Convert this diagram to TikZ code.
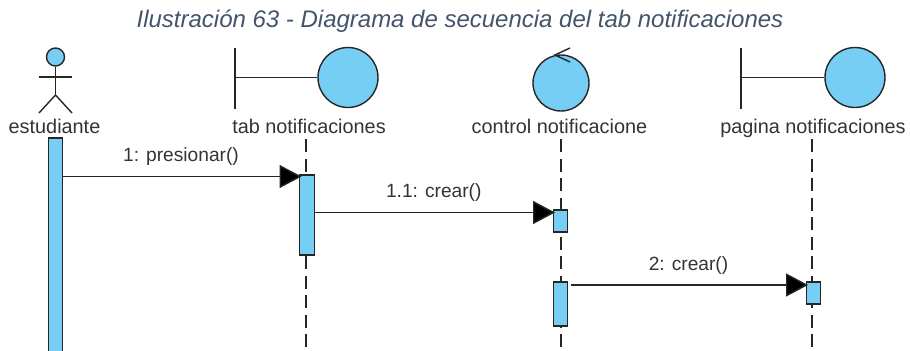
\documentclass[tikz,border=0pt]{standalone}
\usepackage{fontspec}
\setmainfont{Liberation Sans}
\usetikzlibrary{arrows.meta}
\definecolor{lifeblue}{HTML}{76CEF5}
\definecolor{titleblue}{HTML}{44546A}
\tikzset{
    figure/.style={draw=black!85, line width=0.8pt},
    ball/.style={figure, circle, fill=lifeblue, inner sep=0pt},
    actbar/.style={figure, rectangle, fill=lifeblue, inner sep=0pt, minimum width=0.29cm},
    lifeline/.style={draw=black!85, line width=0.8pt, dash pattern=on 0.26cm off 0.13cm},
    message/.style={draw=black!85, line width=0.8pt, shorten >=-0.05cm, -{Triangle[length=0.44cm, width=0.46cm, fill=black]}},
    partname/.style={font=\fontsize{11.3pt}{13pt}\selectfont, text=black!80, inner sep=0pt, anchor=base},
    msgtext/.style={font=\fontsize{10.9pt}{13pt}\selectfont, text=black!80, inner sep=0pt}
}
\begin{document}
\begin{tikzpicture}
    \useasboundingbox (0,0) rectangle (18.2,7);
    \node [font=\fontsize{13.65pt}{16pt}\selectfont\itshape, text=titleblue, inner sep=0pt] (title) at (9.2,6.58) {Ilustración 63 - Diagrama de secuencia del tab notificaciones};
    % actor
    \node [ball, minimum size=0.36cm] (head) at (1.11,5.86) {};
    \coordinate (hip) at (1.11,5.1);
    \coordinate (armL) at (0.78,5.46);
    \coordinate (armR) at (1.44,5.46);
    \coordinate (footL) at (0.78,4.74);
    \coordinate (footR) at (1.44,4.74);
    \draw [figure] (head.south) -- (hip);
    \draw [figure] (armL) -- (armR);
    \draw [figure] (footL) -- (hip) -- (footR);
    \node [partname] (estudiante) at (1.09,4.34) {estudiante};
    % boundary, tab
    \node [ball, minimum size=1.2cm] (tabball) at (6.96,5.45) {};
    \coordinate (tabtop) at (4.7,6.04);
    \coordinate (tabbot) at (4.7,4.82);
    \draw [figure] (tabtop) -- (tabbot);
    \draw [figure] (tabtop |- tabball) -- (tabball.west);
    \node [partname] (tabname) at (6.18,4.34) {tab notificaciones};
    % control
    \node [ball, minimum size=1.12cm] (ctrlball) at (11.22,5.34) {};
    \coordinate (ctrltip) at (11.1,5.9);
    \coordinate (ctrlup) at (11.4,6.04);
    \coordinate (ctrldown) at (11.4,5.76);
    \draw [figure] (ctrlup) -- (ctrltip) -- (ctrldown);
    \node [partname] (ctrlname) at (11.19,4.34) {control notificacione};
    % boundary, pagina
    \node [ball, minimum size=1.2cm] (pageball) at (17.1,5.45) {};
    \coordinate (pagetop) at (14.82,6.04);
    \coordinate (pagebot) at (14.82,4.82);
    \draw [figure] (pagetop) -- (pagebot);
    \draw [figure] (pagetop |- pageball) -- (pageball.west);
    \node [partname] (pagename) at (16.26,4.34) {pagina notificaciones};
    % lifelines
    \coordinate (tabline) at (6.12,4.22);
    \coordinate (ctrlline) at (11.22,4.22);
    \coordinate (pageline) at (16.24,4.22);
    \draw [lifeline] (tabline) -- (tabline |- 0,0);
    \draw [lifeline] (ctrlline) -- (ctrlline |- 0,0);
    \draw [lifeline] (pageline) -- (pageline |- 0,0);
    % activations
    \node [actbar, minimum width=0.27cm, minimum height=4.3cm] (estbar) at (1.11,2.09) {};
    \node [actbar, minimum height=1.6cm] (tabbar) at (6.14,2.7) {};
    \node [actbar, minimum height=0.44cm] (ctrlbarA) at (11.21,2.58) {};
    \node [actbar, minimum height=0.88cm] (ctrlbarB) at (11.21,0.92) {};
    \node [actbar, minimum height=0.44cm] (pagebar) at (16.27,1.14) {};
    % messages
    \coordinate (msgA) at (0,3.47);
    \coordinate (msgB) at (0,2.75);
    \coordinate (msgC) at (0,1.3);
    \draw [message] (estbar.east |- msgA) -- node [msgtext, above=0.2cm] (presionar) {1: presionar()} (tabbar.west |- msgA);
    \draw [message] (tabbar.east |- msgB) -- node [msgtext, above=0.2cm] (crearA) {1.1: crear()} (ctrlbarA.west |- msgB);
    \draw [message] ([xshift=0.06cm]ctrlbarB.east |- msgC) -- node [msgtext, above=0.2cm] (crearB) {2: crear()} (pagebar.west |- msgC);
\end{tikzpicture}
\end{document}
